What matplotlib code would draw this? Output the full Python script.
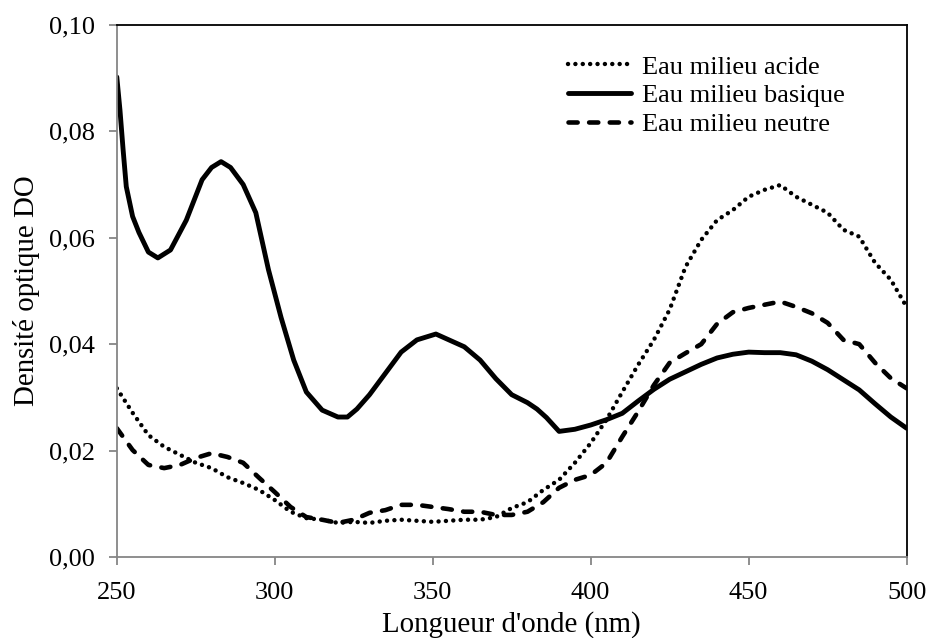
import matplotlib
matplotlib.use("Agg")
import matplotlib.pyplot as plt
from matplotlib.ticker import FuncFormatter, MultipleLocator

# wavelengths (nm), 5 nm step
wavelength = list(range(250, 505, 5))

acide = [0.0317, 0.0271, 0.0229, 0.0207, 0.0192, 0.0177, 0.0167, 0.0150, 0.0139, 0.0126,
         0.0107, 0.0085, 0.0073, 0.0070, 0.0064, 0.0066, 0.0064, 0.0068, 0.0070, 0.0068,
         0.0066, 0.0068, 0.0070, 0.0070, 0.0075, 0.0092, 0.0103, 0.0126, 0.0145, 0.0177,
         0.0214, 0.0258, 0.0310, 0.0361, 0.0408, 0.0465, 0.0545, 0.0596, 0.0633, 0.0652,
         0.0677, 0.0690, 0.0699, 0.0677, 0.0662, 0.0647, 0.0615, 0.0602, 0.0553, 0.0521,
         0.0470]

neutre = [0.0242, 0.0201, 0.0173, 0.0167, 0.0173, 0.0186, 0.0195, 0.0188, 0.0177, 0.0149,
          0.0122, 0.0094, 0.0075, 0.0070, 0.0064, 0.0070, 0.0083, 0.0088, 0.0098, 0.0098,
          0.0094, 0.0090, 0.0085, 0.0085, 0.0079, 0.0079, 0.0085, 0.0103, 0.0130, 0.0145,
          0.0154, 0.0177, 0.0226, 0.0273, 0.0323, 0.0365, 0.0383, 0.0400, 0.0438, 0.0460,
          0.0468, 0.0474, 0.0480, 0.0470, 0.0458, 0.0440, 0.0408, 0.0400, 0.0365, 0.0336,
          0.0317]

# basic medium read at a finer, uneven step where the curve bends sharply
wl_basique = [250, 251, 252, 253, 255, 257, 260, 263, 267, 272, 277, 280, 283, 286, 290,
              294, 298, 302, 306, 310, 315, 320, 323, 326, 330, 335, 340, 345, 351, 357,
              360, 365, 370, 375, 380, 383, 386, 390, 395, 400, 405, 410, 415, 420, 425,
              430, 435, 440, 445, 450, 455, 460, 465, 470, 475, 480, 485, 490, 495, 500]
basique = [0.0902, 0.0840, 0.0765, 0.0696, 0.0640, 0.0610, 0.0573, 0.0562, 0.0577, 0.0633,
           0.0709, 0.0732, 0.0743, 0.0732, 0.0700, 0.0647, 0.0540, 0.0450, 0.0370, 0.0310,
           0.0276, 0.0263, 0.0263, 0.0278, 0.0305, 0.0345, 0.0385, 0.0408, 0.0419, 0.0403,
           0.0395, 0.0370, 0.0335, 0.0305, 0.0290, 0.0278, 0.0262, 0.0236, 0.0240, 0.0248,
           0.0258, 0.0270, 0.0293, 0.0315, 0.0334, 0.0348, 0.0362, 0.0374, 0.0381, 0.0385,
           0.0384, 0.0384, 0.0380, 0.0368, 0.0352, 0.0333, 0.0314, 0.0288, 0.0263, 0.0242]

plt.rcParams["font.family"] = ["Liberation Serif", "DejaVu Serif"]

fig = plt.figure(figsize=(9.27, 6.38), dpi=100)
ax = fig.add_axes([0.126, 0.127, 0.852, 0.834])

ax.plot(wavelength, acide, color="black", lw=3.2, linestyle=(0, (0.01, 1.65)),
        dash_capstyle="round", label="Eau milieu acide")
ax.plot(wl_basique, basique, color="black", lw=3.5, solid_capstyle="round",
        solid_joinstyle="round", label="Eau milieu basique")
ax.plot(wavelength, neutre, color="black", lw=3.3, linestyle=(0, (2.0, 2.5)),
        dash_capstyle="round", label="Eau milieu neutre")

ax.set_xlim(250, 500)
ax.set_ylim(0, 0.10)
ax.xaxis.set_major_locator(MultipleLocator(50))
ax.yaxis.set_major_locator(MultipleLocator(0.02))
ax.yaxis.set_major_formatter(FuncFormatter(lambda v, _: f"{v:.2f}".replace(".", ",")))

gray = "#868686"
for side in ("left", "bottom"):
    ax.spines[side].set_color(gray)
    ax.spines[side].set_linewidth(1.3)
for side in ("top", "right"):
    ax.spines[side].set_color("black")
    ax.spines[side].set_linewidth(1.3)
ax.tick_params(axis="both", direction="out", length=6, width=1.3, color=gray,
               labelsize=19, labelcolor="black")
ax.tick_params(axis="x", pad=12)
ax.tick_params(axis="y", pad=10)

ax.set_xlabel("Longueur d'onde (nm)", fontsize=20.8, labelpad=5)
ax.set_ylabel("Densité optique DO", fontsize=20.8, labelpad=6)

ax.legend(loc="upper left", bbox_to_anchor=(0.571, 0.943), frameon=False, fontsize=19,
          handlelength=2.4, handletextpad=0.4, labelspacing=0.2, borderpad=0,
          borderaxespad=0)

fig.savefig("out.png", dpi=100)
